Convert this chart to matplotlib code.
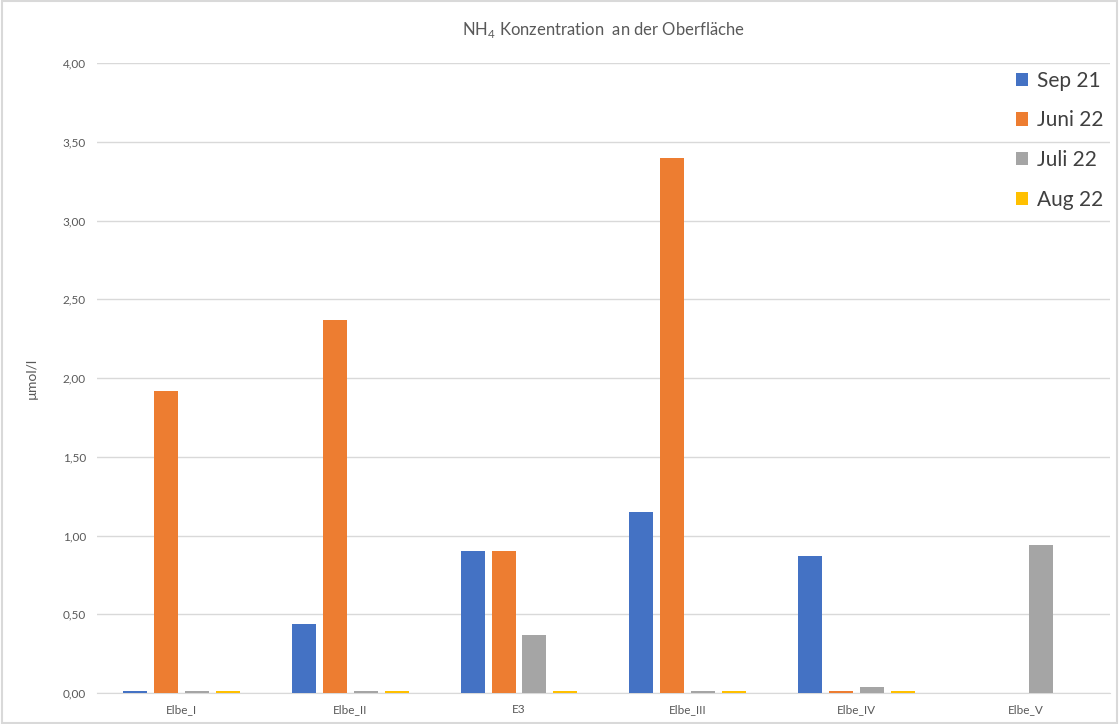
import numpy as np
import matplotlib
matplotlib.use("Agg")
import matplotlib.pyplot as plt

plt.rcParams["font.family"] = ["Lato", "DejaVu Sans"]
plt.rcParams["mathtext.fontset"] = "custom"
plt.rcParams["mathtext.rm"] = "Lato"

stations = ["Elbe_I", "Elbe_II", "E3", "Elbe_III", "Elbe_IV", "Elbe_V"]
series = ["Sep 21", "Juni 22", "Juli 22", "Aug 22"]
sep21 = [0.01, 0.44, 0.90, 1.15, 0.87, 0.0]
juni22 = [1.92, 2.37, 0.90, 3.40, 0.01, 0.0]
juli22 = [0.01, 0.01, 0.37, 0.01, 0.04, 0.94]
aug22 = [0.01, 0.01, 0.01, 0.01, 0.01, 0.0]
colors = ["#4472C4", "#ED7D31", "#A5A5A5", "#FFC000"]

fig = plt.figure(figsize=(11.19, 7.24), dpi=100)
ax = fig.add_axes([0.0867, 0.0428, 0.905, 0.870])

x = np.arange(len(stations))
slot = 0.183
width = 0.142
for i, (vals, name, c) in enumerate(zip([sep21, juni22, juli22, aug22], series, colors)):
    ax.bar(x + (i - 1.5) * slot, vals, width=width, color=c, label=name, zorder=3)

ax.set_xlim(-0.5, len(stations) - 0.5)
ax.set_ylim(0, 4.0)
ax.set_yticks(np.arange(0, 4.01, 0.5))
ax.set_yticklabels([f"{v:.2f}".replace(".", ",") for v in np.arange(0, 4.01, 0.5)])
ax.set_xticks(x)
ax.set_xticklabels(stations)
ax.grid(axis="y", color="#D9D9D9", linewidth=1, zorder=0)
for s in ["top", "right", "left"]:
    ax.spines[s].set_visible(False)
ax.spines["bottom"].set_color("#D9D9D9")
ax.tick_params(axis="both", length=0, labelsize=8.5, labelcolor="#595959", pad=8)
ax.set_ylabel("µmol/l", fontsize=10, color="#595959", labelpad=18)
ax.set_title("NH$_4$ Konzentration  an der Oberfläche", fontsize=12, color="#595959", pad=20)

leg = ax.legend(loc="upper right", bbox_to_anchor=(1.012, 1.018), frameon=False, fontsize=15,
                handlelength=0.6, handleheight=0.6, handletextpad=0.4, labelspacing=0.95,
                labelcolor="#404040")

fig.patches.append(plt.Rectangle((0.002, 0.002), 0.996, 0.996, transform=fig.transFigure,
                                 fill=False, edgecolor="#D9D9D9", linewidth=1.5))
fig.savefig("out.png", dpi=100)
